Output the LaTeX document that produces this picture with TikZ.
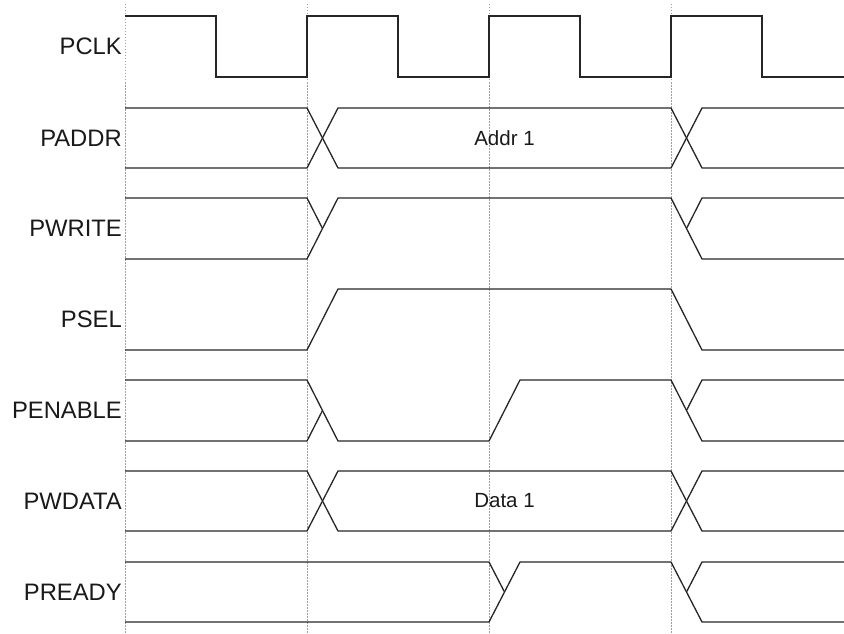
\documentclass[tikz,border=0pt]{standalone}
\usepackage{fontspec}
\setmainfont{Liberation Sans}
\begin{document}
\begin{tikzpicture}[x=1pt,y=-1pt,
  sig/.style={line width=1.3pt, line join=miter, black!85},
  grid/.style={line width=0.9pt, gray!75, dash pattern=on 1.5pt off 1.5pt},
  lbl/.style={anchor=east, inner sep=0pt, font=\fontsize{23.8}{26}\selectfont, text=black!90},
  val/.style={inner sep=0pt, font=\fontsize{20.5}{23}\selectfont, text=black!90}]
\useasboundingbox (0,0) rectangle (844,634);
% grid
\foreach \x in {125,307,489,671} \draw[grid] (\x,4) -- (\x,634);
% labels
\node[lbl] (lclk) at (122,46.5) {PCLK};
\node[lbl] (laddr) at (122,138) {PADDR};
\node[lbl] (lwrite) at (122,228.5) {PWRITE};
\node[lbl] (lsel) at (122,319.5) {PSEL};
\node[lbl] (lenable) at (122,410.5) {PENABLE};
\node[lbl] (lwdata) at (122,501) {PWDATA};
\node[lbl] (lready) at (122,592) {PREADY};
% PCLK
\draw[sig] (125,16) -| (216,77) -| (307,16) -| (398,77) -| (489,16) -| (580,77) -| (671,16) -| (762,77) -- (844,77);
% PADDR
\draw[sig] (125,108)--(307,108)--(338,168)--(671,168)--(702,108)--(844,108);
\draw[sig] (125,168)--(307,168)--(338,108)--(671,108)--(702,168)--(844,168);
\node[val] (addr) at (504.5,138) {Addr 1};
% PWRITE
\draw[sig] (125,198)--(307,198)--(322.5,228.5);
\draw[sig] (125,259)--(307,259)--(338,198)--(671,198)--(702,259)--(844,259);
\draw[sig] (686.5,228.5)--(702,198)--(844,198);
% PSEL
\draw[sig] (125,350)--(307,350)--(338,289)--(671,289)--(702,350)--(844,350);
% PENABLE
\draw[sig] (125,380)--(307,380)--(338,441)--(489,441)--(520,380)--(671,380)--(702,441)--(844,441);
\draw[sig] (125,441)--(307,441)--(322.5,410.5);
\draw[sig] (686.5,410.5)--(702,380)--(844,380);
% PWDATA
\draw[sig] (125,471)--(307,471)--(338,531)--(671,531)--(702,471)--(844,471);
\draw[sig] (125,531)--(307,531)--(338,471)--(671,471)--(702,531)--(844,531);
\node[val] (data) at (504.5,501) {Data 1};
% PREADY
\draw[sig] (125,562)--(489,562)--(504.5,592);
\draw[sig] (125,622)--(489,622)--(520,562)--(671,562)--(702,622)--(844,622);
\draw[sig] (686.5,592)--(702,562)--(844,562);
\end{tikzpicture}
\end{document}
